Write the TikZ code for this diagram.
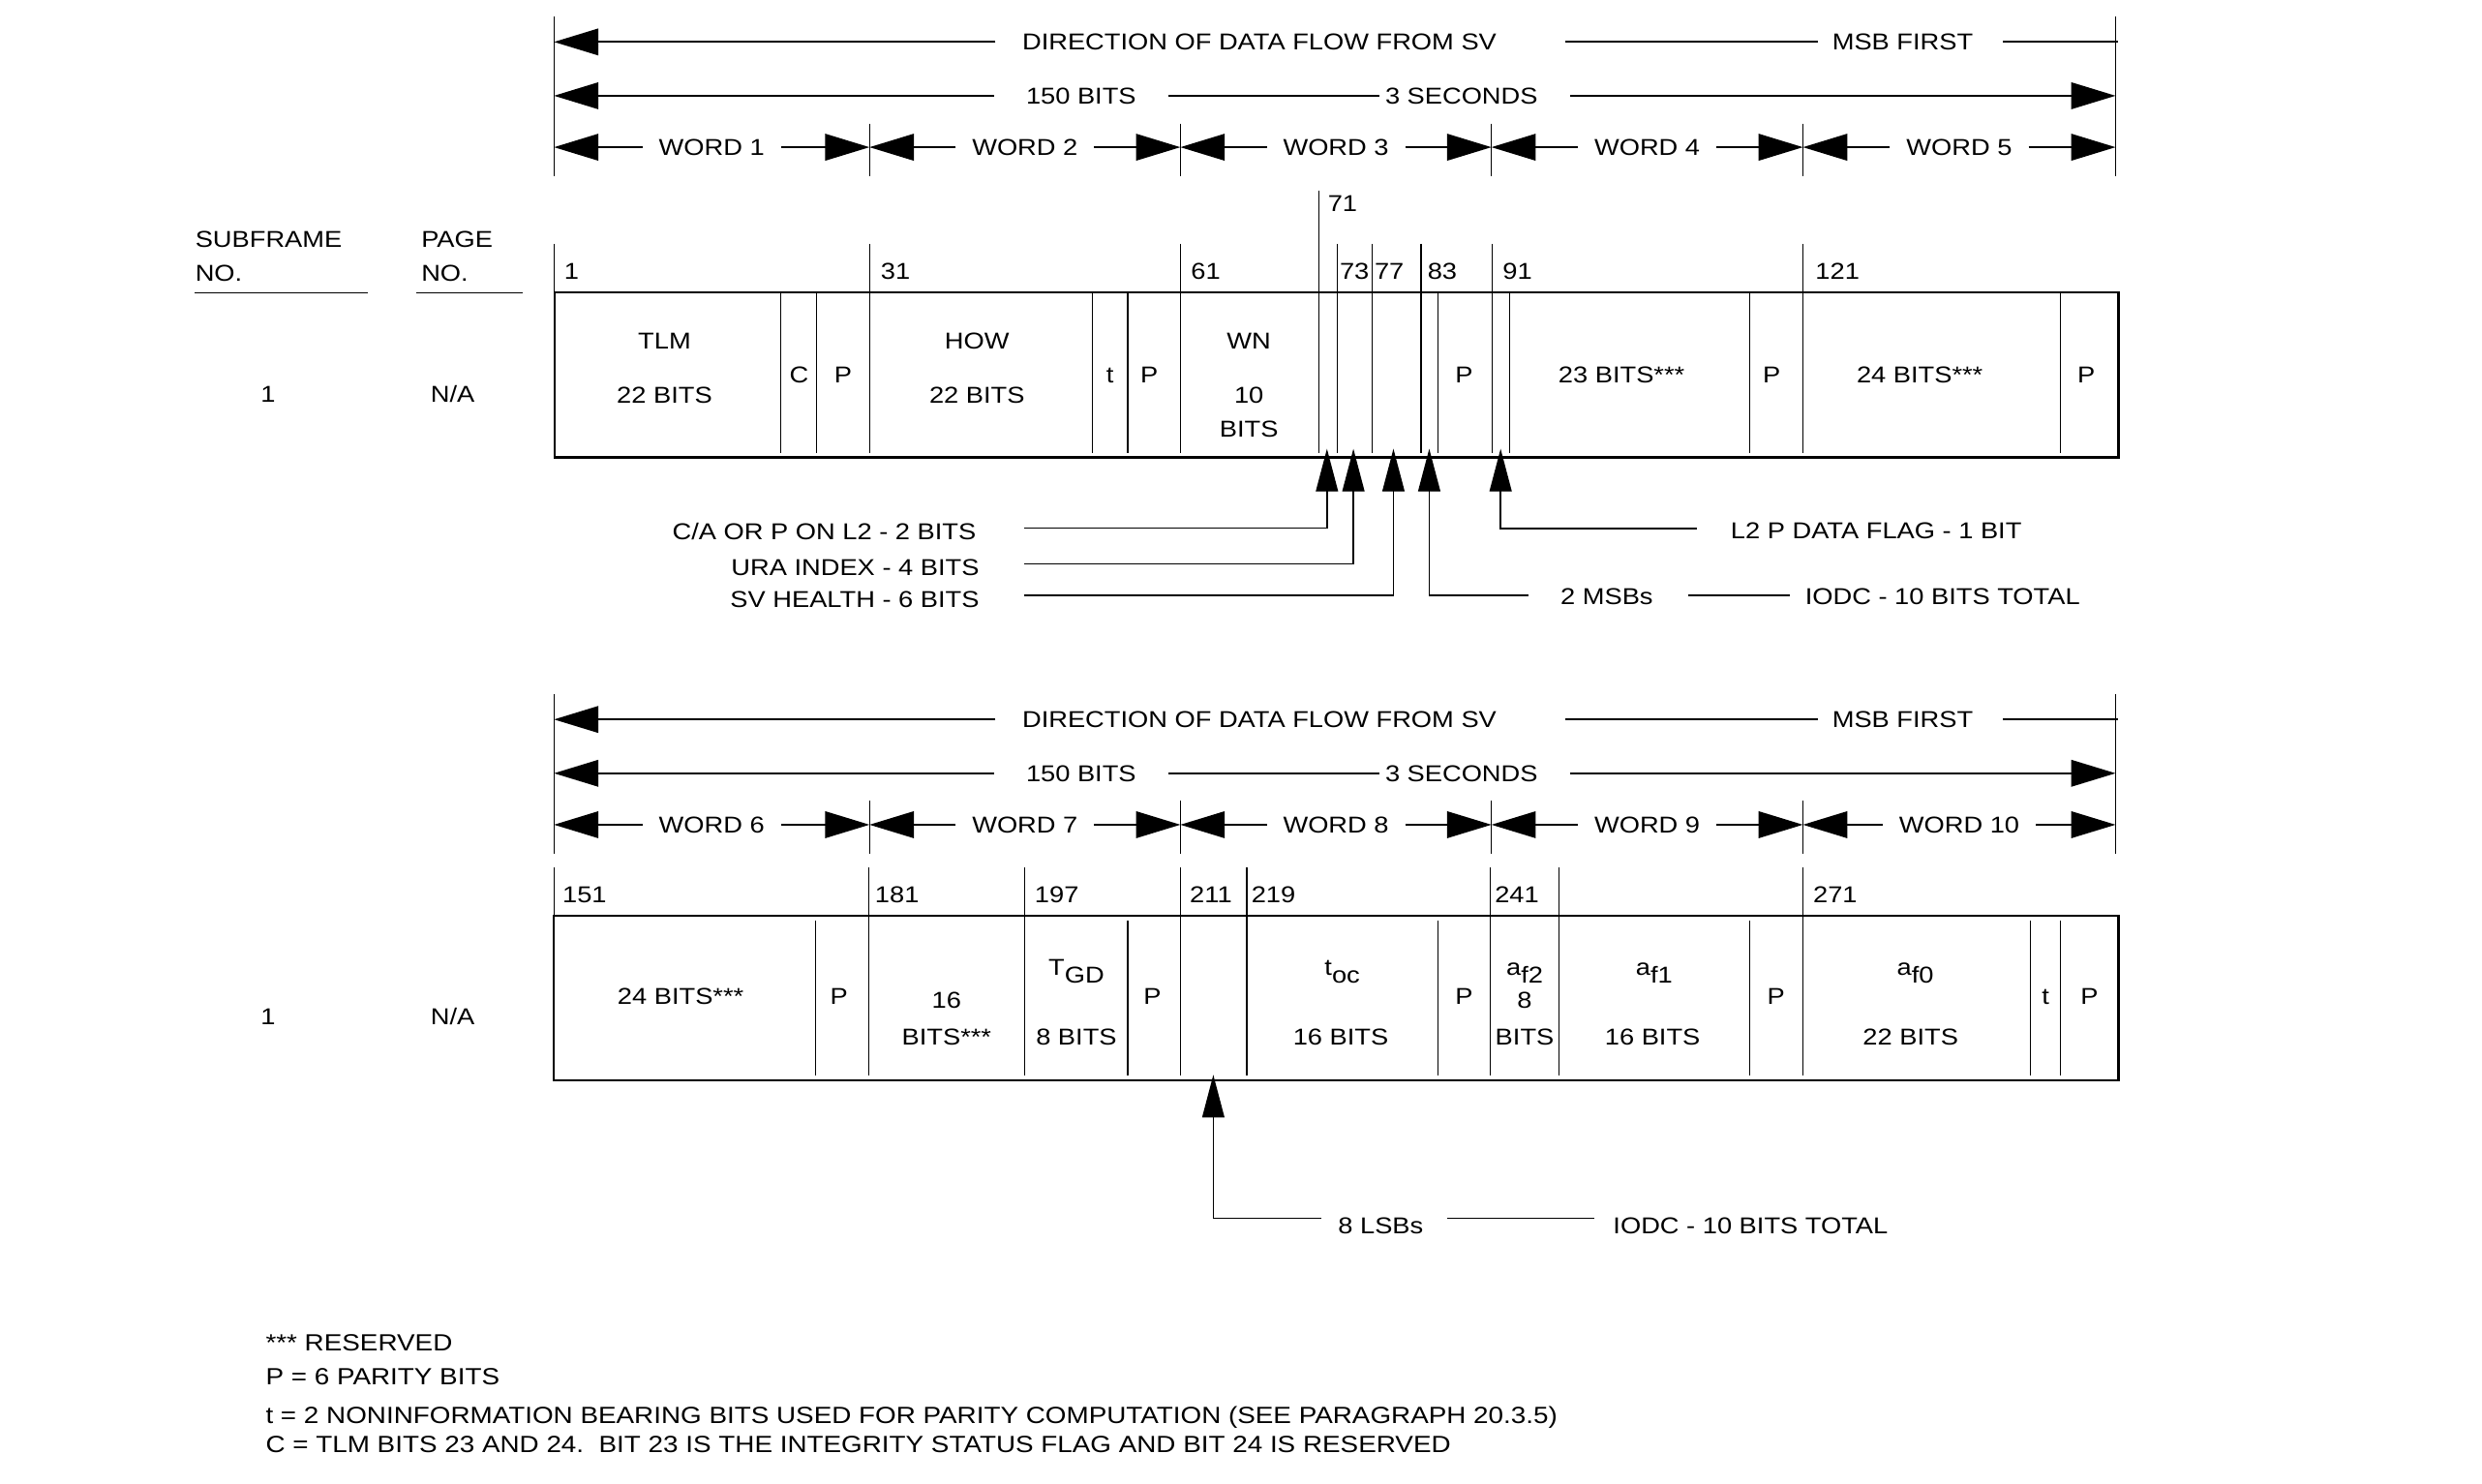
\documentclass[tikz,border=0pt]{standalone}
\usepackage{fontspec}
\setmainfont{Liberation Sans}[FakeStretch=1.15]
\usetikzlibrary{arrows.meta}

\newcommand\lblfont{\fontsize{7.25pt}{8.7pt}\selectfont}
\newcommand\notefont{\fontsize{7.4pt}{8.9pt}\selectfont}

\tikzset{
  lbl/.style={font=\lblfont, inner sep=0pt, text height=5.2pt, text depth=0pt},
  subl/.style={font=\lblfont, inner sep=0pt, anchor=base},
  note/.style={font=\notefont, inner sep=0pt, text height=5.3pt, text depth=0pt, anchor=west},
  hair/.style={line width=0.35pt},
  frame/.style={line width=0.7pt},
  hline/.style={line width=0.55pt},
  harr/.style={line width=0.55pt, -{Triangle[length=14pt,width=8.4pt]}},
  varr/.style={line width=0.45pt, -{Triangle[length=13.5pt,width=7pt]}},
}

% Word ruler above each subframe line: direction, length and word spans
\newcommand\dataheader[1]{%
  \coordinate (lt) at (350,10.4);
  \coordinate (lb) at (350,111.3);
  \coordinate (rt) at (1336.5,10.4);
  \coordinate (rb) at (1336.5,111.3);
  \draw[hair] (lt) -- (lb);
  \draw[hair] (rt) -- (rb);
  \foreach \x [count=\k] in {549.3,745.7,942.2,1139}{
    \coordinate (tt\k) at (\x,78);
    \coordinate (tb\k) at (\x,111.3);
    \draw[hair] (tt\k) -- (tb\k);
  }
  % direction of flow
  \node[lbl] (dir) at (795.6,26.5) {DIRECTION OF DATA FLOW FROM SV};
  \node[lbl] (msb) at (1202,26.5) {MSB FIRST};
  \coordinate (dl) at (350,26.5);
  \coordinate (dr) at (1338,26.5);
  \draw[harr] ([xshift=-8.3pt]dir.west) -- (dl);
  \draw[hline] ([xshift=21.5pt]dir.east) -- ([xshift=-4.3pt]msb.west);
  \draw[hline] ([xshift=9.2pt]msb.east) -- (dr);
  % length of the subframe
  \node[lbl] (len) at (683,60.5) {150 BITS};
  \node[lbl] (dur) at (923.3,60.5) {3 SECONDS};
  \coordinate (ll) at (350,60.5);
  \coordinate (lr) at (1336.5,60.5);
  \draw[harr] ([xshift=-10pt]len.west) -- (ll);
  \draw[hline] ([xshift=10pt]len.east) -- ([xshift=-1.7pt]dur.west);
  \draw[harr] ([xshift=10pt]dur.east) -- (lr);
  % word spans
  \foreach \xa/\xb [count=\k] in {350/549.3,549.3/745.7,745.7/942.2,942.2/1139,1139/1336.5}{
    \pgfmathtruncatemacro\wn{\k+#1}
    \coordinate (wa\k) at (\xa,93);
    \coordinate (wb\k) at (\xb,93);
    \node[lbl] (w\k) at ({(\xa+\xb)/2},93) {WORD \wn};
    \draw[harr] ([xshift=-5pt]w\k.west) -- (wa\k);
    \draw[harr] ([xshift=5pt]w\k.east) -- (wb\k);
  }
}

\begin{document}
\begin{tikzpicture}[x=0.5pt,y=-0.5pt]
  \fill[white] (0,0) rectangle (1568,937);
  \useasboundingbox (0,0) rectangle (1568,937);

  % ---------- rulers ----------
  \begin{scope}[name prefix=up-]
    \dataheader{0}
  \end{scope}
  \begin{scope}[yshift=-214pt, name prefix=lo-]
    \dataheader{5}
  \end{scope}

  % ---------- column headings ----------
  \node[lbl,anchor=west] (sfa) at (123,150.9) {SUBFRAME};
  \node[lbl,anchor=west] (sfb) at (123,172.2) {NO.};
  \coordinate (sfu0) at (123,184.9);
  \coordinate (sfu1) at (232.6,184.9);
  \draw[hair] (sfu0) -- (sfu1);
  \node[lbl,anchor=west] (pga) at (265.8,150.9) {PAGE};
  \node[lbl,anchor=west] (pgb) at (265.8,172.2) {NO.};
  \coordinate (pgu0) at (263,184.9);
  \coordinate (pgu1) at (330,184.9);
  \draw[hair] (pgu0) -- (pgu1);

  \node[lbl] (sf1) at (169.3,248.7) {1};
  \node[lbl] (pg1) at (286,248.7) {N/A};
  \node[lbl] (sf2) at (169.3,642.2) {1};
  \node[lbl] (pg2) at (286,642.2) {N/A};

  % ---------- words 1-5 ----------
  \coordinate (ubox-nw) at (350.3,184.9);
  \coordinate (ubox-se) at (1338.4,288.9);
  \draw[frame] (ubox-nw) rectangle (ubox-se);
  \foreach \x/\lab/\lx in {350.3/1/356, 549.4/31/556, 746/61/752, 844.6/73/846,
                           866.9/77/868, 897.7/83/901.5, 942.5/91/949, 1139.1/121/1146.5}{
    \coordinate (ut\lab) at (\x,154);
    \coordinate (ub\lab) at (\x,286);
    \draw[hair] (ut\lab) -- (ub\lab);
    \node[lbl,anchor=west] (ul\lab) at (\lx,171) {\lab};
  }
  \coordinate (ut71) at (833.3,120.3);
  \coordinate (ub71) at (833.3,286);
  \draw[hair] (ut71) -- (ub71);
  \node[lbl,anchor=west] (ul71) at (838.5,128.4) {71};
  \foreach \x [count=\k] in {493.2,515.9,690.1,712.4,908.6,953.8,1105.6,1301.7}{
    \coordinate (ui\k) at (\x,184.9);
    \coordinate (uj\k) at (\x,286);
    \draw[hair] (ui\k) -- (uj\k);
  }

  \node[lbl] (tlm)  at (419.8,215.5) {TLM};
  \node[lbl] (tlmb) at (419.8,249.3) {22 BITS};
  \node[lbl] (cfl)  at (504.8,236.9) {C};
  \node[lbl] (pa1)  at (532.7,236.9) {P};
  \node[lbl] (how)  at (617.2,215.5) {HOW};
  \node[lbl] (howb) at (617.2,249.3) {22 BITS};
  \node[lbl] (ta1)  at (701.3,236.9) {t};
  \node[lbl] (pa2)  at (726.1,236.9) {P};
  \node[lbl] (wn)   at (789,215.5) {WN};
  \node[lbl] (wna)  at (789,249.6) {10};
  \node[lbl] (wnb)  at (789,271.1) {BITS};
  \node[lbl] (pa3)  at (925,236.9) {P};
  \node[lbl] (r23)  at (1024.4,236.9) {23 BITS***};
  \node[lbl] (pa4)  at (1119.2,236.9) {P};
  \node[lbl] (r24a) at (1212.8,236.9) {24 BITS***};
  \node[lbl] (pa5)  at (1318,236.9) {P};

  % field call-outs, word 3
  \coordinate (ca-tip)  at (838.3,283.5);
  \coordinate (ura-tip) at (855,283.5);
  \coordinate (svh-tip) at (880.3,283.5);
  \coordinate (msb-tip) at (902.9,283.5);
  \coordinate (l2p-tip) at (948,283.5);
  \node[lbl,anchor=east] (ca)  at (617,335.7) {C/A OR P ON L2 - 2 BITS};
  \node[lbl,anchor=east] (ura) at (619,358.3) {URA INDEX - 4 BITS};
  \node[lbl,anchor=east] (svh) at (619,378.6) {SV HEALTH - 6 BITS};
  \draw[varr] ([xshift=15pt,yshift=1pt]ca.east) -| (ca-tip);
  \draw[varr] ([xshift=14pt,yshift=1pt]ura.east) -| (ura-tip);
  \draw[varr] ([xshift=14pt,yshift=1.25pt]svh.east) -| (svh-tip);
  \node[lbl,anchor=west] (msbs)  at (985.5,376.6) {2 MSBs};
  \node[lbl,anchor=west] (iodc1) at (1140,376.6) {IODC - 10 BITS TOTAL};
  \draw[varr] ([xshift=-10pt,yshift=0.25pt]msbs.west) -| (msb-tip);
  \draw[hair] ([xshift=11pt,yshift=0.25pt]msbs.east) -- ([xshift=-4.7pt,yshift=0.25pt]iodc1.west);
  \node[lbl,anchor=west] (l2p) at (1093,335) {L2 P DATA FLAG - 1 BIT};
  \draw[varr] ([xshift=-10.5pt,yshift=0.6pt]l2p.west) -| (l2p-tip);

  % ---------- words 6-10 ----------
  \coordinate (lbox-nw) at (350,578.5);
  \coordinate (lbox-se) at (1338.4,682.5);
  \draw[frame] (lbox-nw) rectangle (lbox-se);
  \foreach \x/\lab/\lx in {350/151/355, 548.6/181/552.4, 647.4/197/653.3, 745.6/211/751.3,
                           787.7/219/790.2, 941.7/241/944, 1139/271/1145.1}{
    \coordinate (bt\lab) at (\x,548.2);
    \coordinate (bb\lab) at (\x,679.5);
    \draw[hair] (bt\lab) -- (bb\lab);
    \node[lbl,anchor=west] (bl\lab) at (\lx,565) {\lab};
  }
  \coordinate (bt249) at (984.7,548.2);
  \coordinate (bb249) at (984.7,679.5);
  \draw[hair] (bt249) -- (bb249);
  \foreach \x [count=\k] in {515.4,712.4,908.2,1105.4,1282.6,1301.8}{
    \coordinate (bi\k) at (\x,581.5);
    \coordinate (bj\k) at (\x,679.5);
    \draw[hair] (bi\k) -- (bj\k);
  }

  \node[lbl]  (r24b) at (430,629.5) {24 BITS***};
  \node[lbl]  (pb1)  at (530,629.5) {P};
  \node[lbl]  (r16a) at (598,632) {16};
  \node[lbl]  (r16b) at (598,655) {BITS***};
  \node[subl] (tgd)  at (680,616) {T\raisebox{-2.5pt}{GD}};
  \node[lbl]  (tgdb) at (680,655) {8 BITS};
  \node[lbl]  (pb2)  at (728,629.5) {P};
  \node[subl] (toc)  at (848,616) {t\raisebox{-2.5pt}{oc}};
  \node[lbl]  (tocb) at (847,655) {16 BITS};
  \node[lbl]  (pb3)  at (925,629.5) {P};
  \node[subl] (af2)  at (963.2,616) {a\raisebox{-2.5pt}{f2}};
  \node[lbl]  (af2a) at (963.2,632) {8};
  \node[lbl]  (af2b) at (963.2,655) {BITS};
  \node[subl] (af1)  at (1045,616) {a\raisebox{-2.5pt}{f1}};
  \node[lbl]  (af1b) at (1044,655) {16 BITS};
  \node[lbl]  (pb4)  at (1122,629.5) {P};
  \node[subl] (af0)  at (1210,616) {a\raisebox{-2.5pt}{f0}};
  \node[lbl]  (af0b) at (1207,655) {22 BITS};
  \node[lbl]  (tb1)  at (1292.3,629.5) {t};
  \node[lbl]  (pb5)  at (1320,629.5) {P};

  % field call-out, word 8
  \coordinate (lsb-tip) at (766.5,679);
  \node[lbl,anchor=west] (lsb)   at (845,774.5) {8 LSBs};
  \node[lbl,anchor=west] (iodc2) at (1018.7,774.5) {IODC - 10 BITS TOTAL};
  \draw[varr] ([xshift=-5.25pt,yshift=2.5pt]lsb.west) -| (lsb-tip);
  \draw[hair] ([xshift=7.3pt,yshift=2.5pt]lsb.east) -- ([xshift=-5.85pt,yshift=2.5pt]iodc2.west);

  % ---------- notes ----------
  \node[note] (n1) at (167.5,848.4) {*** RESERVED};
  \node[note] (n2) at (167.5,869.8) {P = 6 PARITY BITS};
  \node[note] (n3) at (167.5,893.9) {t = 2 NONINFORMATION BEARING BITS USED FOR PARITY COMPUTATION (SEE PARAGRAPH 20.3.5)};
  \node[note] (n4) at (167.5,912.2) {C = TLM BITS 23 AND 24.\ \ BIT 23 IS THE INTEGRITY STATUS FLAG AND BIT 24 IS RESERVED};
\end{tikzpicture}
\end{document}
